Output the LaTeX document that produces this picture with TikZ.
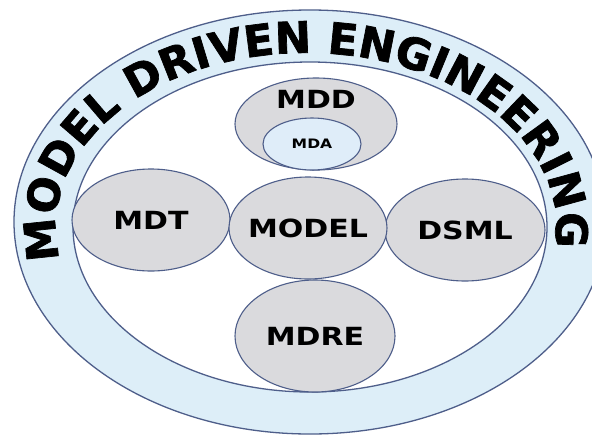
\documentclass[tikz,border=0pt]{standalone}
\usepackage{fontspec}
\usepackage{xcolor}
\usetikzlibrary{shapes.geometric,decorations.text,positioning}

\newfontfamily\ringfont{DejaVu Sans}[FakeBold=1.6]
\newfontfamily\blobfont{DejaVu Sans}[FakeStretch=1.2]

\definecolor{ringblue}{RGB}{221,238,248}
\definecolor{edge}{RGB}{78,94,138}
\definecolor{blobgray}{RGB}{218,218,221}
\definecolor{mdablue}{RGB}{223,237,249}

\begin{document}
\begin{tikzpicture}[x=1pt,y=-1pt,
    rim/.style={draw=edge,line width=1.3pt},
    blob/.style={ellipse,draw=edge,line width=1.1pt,fill=blobgray,inner sep=0pt},
    lbl/.style={font=\blobfont\bfseries\fontsize{25}{25}\selectfont,text=black}]
  \clip (0,0) rectangle (592,437);
  \fill[white] (0,0) rectangle (592,437);
  % the ring
  \path[rim,fill=ringblue] (310,222) ellipse [x radius=296,y radius=212];
  \path[rim,fill=white] (310,227) ellipse [x radius=237,y radius=165];
  % title written round the ring
  \path[decorate,decoration={text along path,text align=center,
      text={|\ringfont\bfseries\fontsize{43.5}{43.5}\selectfont|MODEL DRIVEN ENGINEERING}}]
    (306,226) ++(164:250 and 173) arc[start angle=164,end angle=372,x radius=250,y radius=173];
  % the five areas
  \node[blob,minimum width=158pt,minimum height=102pt,label={[lbl]center:MDT}] (mdt) at (151,220) {};
  \node[blob,minimum width=160pt,minimum height=102pt,label={[lbl]center:DSML}] (dsml) at (465,230) {};
  \node[blob,minimum width=158pt,minimum height=102pt,label={[lbl]center:MODEL}] (model) at (308,228) {};
  \node[blob,minimum width=160pt,minimum height=112pt,label={[lbl]center:MDRE}] (mdre) at (315,336) {};
  \node[blob,minimum width=162pt,minimum height=92pt,label={[lbl,yshift=25pt]center:MDD}] (mdd) at (316,124) {};
  \node[blob,fill=mdablue,minimum width=98pt,minimum height=52pt,
    label={[lbl,font=\blobfont\bfseries\fontsize{13}{13}\selectfont]center:MDA}] (mda) at (312,144) {};
\end{tikzpicture}
\end{document}
